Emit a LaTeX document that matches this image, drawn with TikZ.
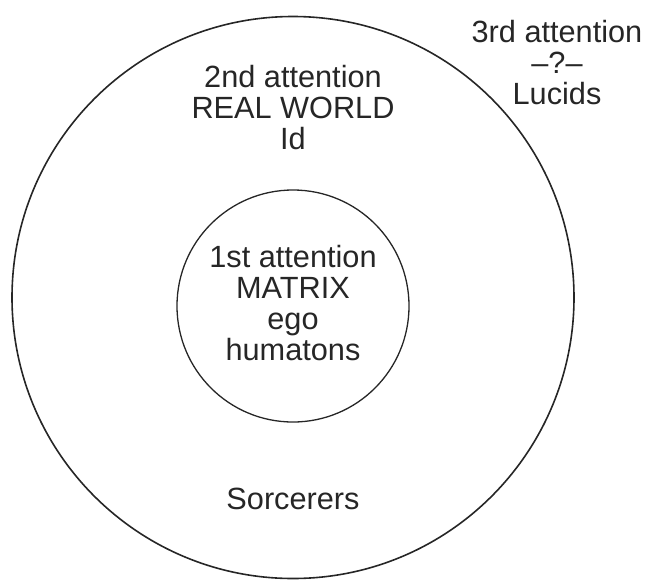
\documentclass[tikz,border=0pt]{standalone}
\usepackage{fontspec}
\setmainfont{Liberation Sans}
\begin{document}
\begin{tikzpicture}[x=1pt,y=-1pt,
        ring/.style={draw=black!85,circle,inner sep=0pt},
        words/.style={align=center,inner sep=0pt,anchor=north,text=black!85,font=\fontsize{30.7}{31}\selectfont}]
        \useasboundingbox (0,0) rectangle (651,582);
        %% Circles
        \node[ring,line width=1.6pt,minimum size=562pt] (outer) at (293,297.5) {};
        \node[ring,line width=1.3pt,minimum size=232pt] (inner) at (293,306) {};
        %% Labels
        \node[words] (second) at (293,65) {2nd attention\\REAL WORLD\\Id};
        \node[words] (first) at (293,245) {1st attention\\MATRIX\\ego\\humatons};
        \node[words] (sorc) at (293,488) {Sorcerers};
        \node[words] (third) at (557,20) {3rd attention\\–?–\\Lucids};
    \end{tikzpicture}
\end{document}
